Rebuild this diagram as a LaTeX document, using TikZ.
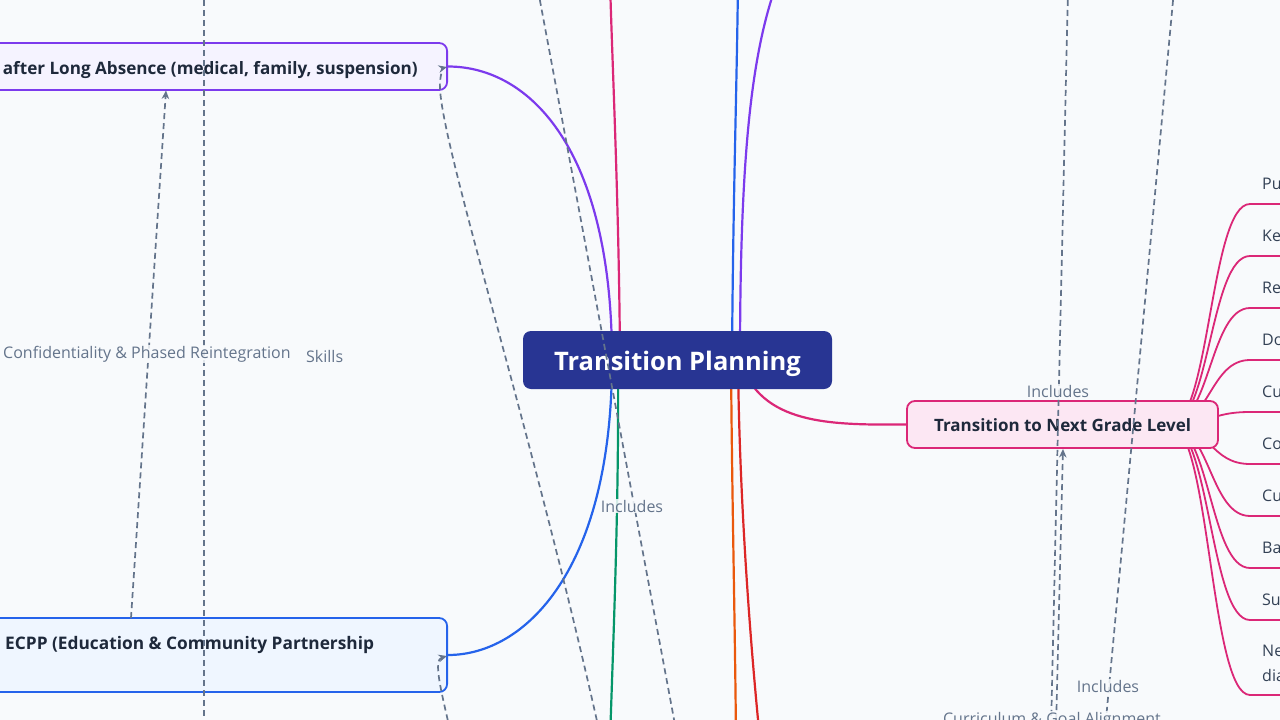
\documentclass[tikz,border=0pt]{standalone}
\usepackage{fontspec}
\setmainfont{Open Sans}
\usetikzlibrary{arrows.meta}
\definecolor{bgc}{HTML}{F8FAFC}
\definecolor{navy}{HTML}{283593}
\definecolor{ink}{HTML}{1E293B}
\definecolor{leafink}{HTML}{334155}
\definecolor{dashc}{HTML}{64748B}
\definecolor{purp}{HTML}{7C3AED}
\definecolor{purpfill}{HTML}{F5F3FF}
\definecolor{blu}{HTML}{2563EB}
\definecolor{blufill}{HTML}{EFF6FF}
\definecolor{pnk}{HTML}{DB2777}
\definecolor{pnkfill}{HTML}{FCE7F3}
\definecolor{grn}{HTML}{059669}
\definecolor{orng}{HTML}{EA580C}
\definecolor{rd}{HTML}{DC2626}
\pgfdeclarelayer{bglayer}
\pgfdeclarelayer{edgelayer}
\pgfdeclarelayer{dashlayer}
\pgfdeclarelayer{labellayer}
\pgfsetlayers{bglayer,edgelayer,main,dashlayer,labellayer}
\begin{document}
\begin{tikzpicture}[x=1pt,y=-1pt,
  branch/.style={line width=2.2pt,line cap=round},
  dashline/.style={draw=dashc,line width=1.7pt,dash pattern=on 6pt off 4pt},
  arrowtip/.style={-{Stealth[length=8.5pt,width=7.5pt]}},
  centerbox/.style={fill=navy,rounded corners=8pt,minimum width=309pt,minimum height=58pt,
    text=white,font=\fontsize{25.5}{30}\selectfont\bfseries,inner sep=0pt,text height=21pt,text depth=0pt},
  topicbox/.style={rounded corners=8pt,line width=1.8pt,inner sep=0pt},
  topictext/.style={text=ink,font=\fontsize{17.1}{21}\selectfont\bfseries,inner sep=0pt},
  leaftext/.style={text=leafink,font=\fontsize{16}{25}\selectfont,inner sep=0pt,align=left},
  elabel/.style={text=dashc,font=\fontsize{16}{18}\selectfont,fill=bgc,fill opacity=0.85,text opacity=1,inner sep=1pt}
]
\begin{pgfonlayer}{bglayer}
\fill[bgc] (0,0) rectangle (1280,720);
\end{pgfonlayer}
\useasboundingbox (0,0) rectangle (1280,720);

% ---- nodes ----
\node[centerbox] (center) at (677.5,360) {Transition Planning};

\node[topicbox,draw=purp,fill=purpfill,anchor=east,minimum width=560pt,minimum height=47pt] (absence) at (448,66.5) {};
\node[topictext,anchor=base east] (absencetext) at (418,74.5) {after Long Absence (medical, family, suspension)};

\node[topicbox,draw=blu,fill=blufill,anchor=east,minimum width=600pt,minimum height=74pt] (ecpp) at (448,655) {};
\node[topictext,anchor=base west,font=\fontsize{17.3}{21}\selectfont\bfseries] (ecpptext) at (5,649.5) {ECPP (Education \& Community Partnership};

\node[topicbox,draw=pnk,fill=pnkfill,minimum width=311pt,minimum height=47pt,
  text=ink,font=\fontsize{17}{20}\selectfont\bfseries,text height=13.5pt,text depth=0pt] (nextgrade) at (1062.5,424.5) {Transition to Next Grade Level};

% leaves
\foreach \n/\yc/\yu/\t in {1/184/204/Pu,2/236/256/Ke,3/288/308/Re,4/340/360/Do,5/392/412/Cu,
                          6/444/464/Co,7/496/516/Cu,8/548/568/Ba,9/600/620/Su}{
  \node[leaftext,anchor=base west] (leaf\n) at (1262,\yc+5.5) {\t};
  \coordinate (u\n) at (1250,\yu);
}
\node[leaftext,anchor=base west] (leaf10) at (1262,681.5) {Ne\\dia};
\coordinate (u10) at (1250,695);

% ---- coloured branches ----
\coordinate (ngsrc) at (1170,425);
\coordinate (topA) at (610,-20);
\coordinate (topB) at (738,-20);
\coordinate (topC) at (778,-20);
\coordinate (botA) at (610,740);
\coordinate (botB) at (736,740);
\coordinate (botC) at (760,740);
\begin{pgfonlayer}{edgelayer}
\draw[branch,purp] (center.center -| 612,0) .. controls (612,150) and (530,66.5) .. (absence.east);
\draw[branch,blu] (center.center -| 612,0) .. controls (612,570) and (525,655) .. (ecpp.east);
\draw[branch,pnk] (center.center -| 620,0) .. controls (619,200) and (612,60) .. (topA);
\draw[branch,blu] (center.center -| 732,0) .. controls (733,200) and (737,80) .. (topB);
\draw[branch,purp] (center.center -| 740,0) .. controls (740,150) and (752,50) .. (topC);
\draw[branch,grn] (center.center -| 618,0) .. controls (619,500) and (614,620) .. (botA);
\draw[branch,orng] (center.center -| 731,0) .. controls (732,500) and (735,620) .. (botB);
\draw[branch,rd] (center.center -| 738,0) .. controls (739,480) and (748,620) .. (botC);
\draw[branch,pnk] (center.center -| 740,0) .. controls (760,425) and (830,425) .. (nextgrade.west);
\foreach \n in {1,...,10}{
  \draw[pnk,line width=1.8pt] (ngsrc) .. controls (1210,425) and (1210,0 |- u\n) .. (u\n) -- ++(45,0);
}
\end{pgfonlayer}

% ---- dashed relations ----
\coordinate (dA1) at (204,-10);
\coordinate (dA2) at (204,730);
\coordinate (dB1) at (131,618);
\coordinate (dB2) at (166,90.5);
\coordinate (dC1) at (599,730);
\coordinate (dC2) at (447,67);
\coordinate (dD1) at (538,-10);
\coordinate (dD2) at (676,730);
\coordinate (dE1) at (450,730);
\coordinate (dE2) at (447,656);
\coordinate (dF1) at (1068,-10);
\coordinate (dF2) at (1051,730);
\coordinate (dG1) at (1056,730);
\coordinate (dG2) at (1063,449);
\coordinate (dH1) at (1174,-10);
\coordinate (dH2) at (1105,730);
\begin{pgfonlayer}{dashlayer}
\draw[dashline] (dA1) -- (dA2);
\draw[dashline,arrowtip] (dB1) -- (dB2);
\draw[dashline,arrowtip] (dC1) .. controls (530,420) and (436,130) .. (440,82) .. controls (441,72) and (443,68) .. (dC2);
\draw[dashline] (dD1) -- (dD2);
\draw[dashline,arrowtip] (dE1) .. controls (441,690) and (433,660) .. (dE2);
\draw[dashline] (dF1) -- (dF2);
\draw[dashline,arrowtip] (dG1) -- (dG2);
\draw[dashline] (dH1) -- (dH2);
\end{pgfonlayer}

% ---- relation labels ----
\begin{pgfonlayer}{labellayer}
\node[elabel,anchor=west] (lskills) at (305,356) {Skills};
\node[elabel,anchor=west] (lconf) at (2,354) {Confidentiality \& Phased Reintegration};
\node[elabel] (linc1) at (632,506) {Includes};
\node[elabel] (linc2) at (1058,391) {Includes};
\node[elabel] (linc3) at (1108,686) {Includes};
\node[elabel] (lcurr) at (1052,720) {Curriculum \& Goal Alignment};
\end{pgfonlayer}
\end{tikzpicture}
\end{document}
